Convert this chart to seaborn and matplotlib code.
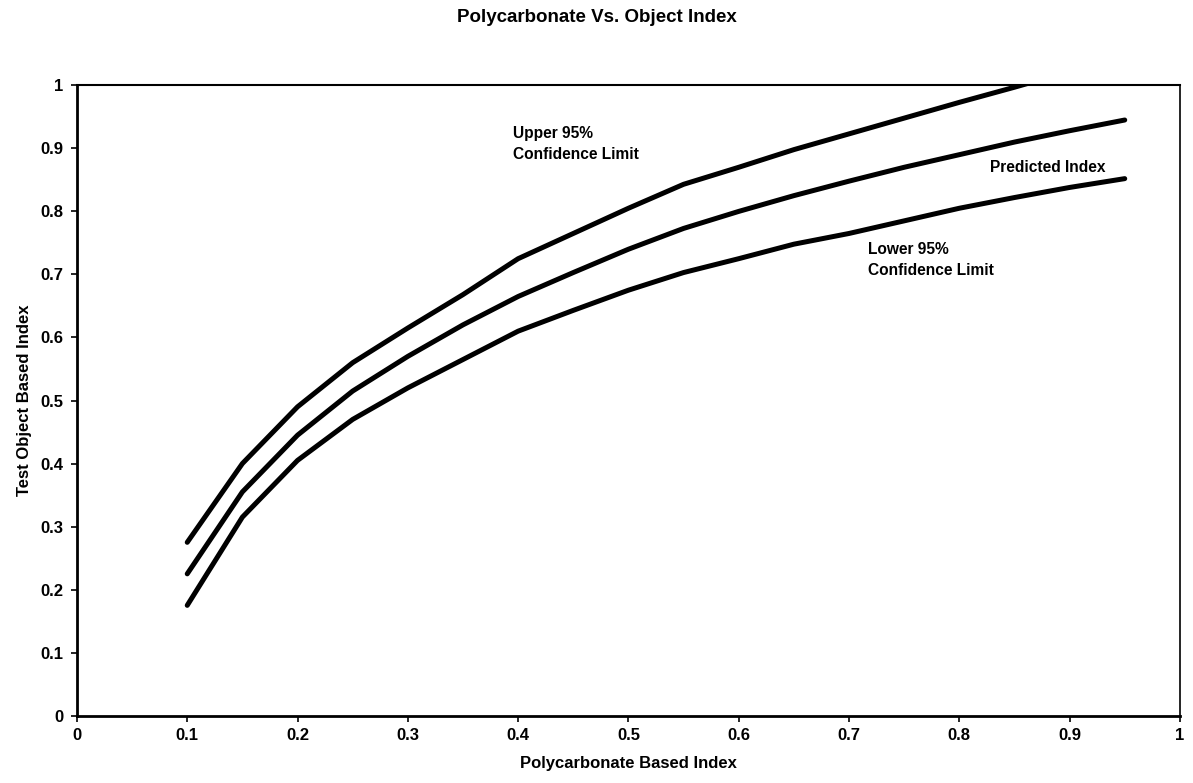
import matplotlib
matplotlib.use("Agg")
import matplotlib.pyplot as plt
import seaborn as sns
import pandas as pd

# values
x_index = [0.10, 0.15, 0.20, 0.25, 0.30, 0.35, 0.40, 0.45, 0.50,
           0.55, 0.60, 0.65, 0.70, 0.75, 0.80, 0.85, 0.90, 0.95]
upper_limit = [0.275, 0.400, 0.490, 0.560, 0.615, 0.668, 0.725, 0.765, 0.805,
               0.843, 0.870, 0.898, 0.923, 0.948, 0.973, 0.997, 1.022, 1.046]
predicted = [0.225, 0.355, 0.445, 0.515, 0.570, 0.620, 0.665, 0.703, 0.740,
             0.773, 0.800, 0.825, 0.848, 0.870, 0.890, 0.910, 0.928, 0.945]
lower_limit = [0.175, 0.315, 0.405, 0.470, 0.520, 0.565, 0.610, 0.643, 0.675,
               0.703, 0.725, 0.748, 0.765, 0.785, 0.805, 0.822, 0.838, 0.852]

series_names = ["Upper 95% Confidence Limit", "Predicted Index", "Lower 95% Confidence Limit"]
ticks = [0, 0.1, 0.2, 0.3, 0.4, 0.5, 0.6, 0.7, 0.8, 0.9, 1]
tick_labels = ["0", "0.1", "0.2", "0.3", "0.4", "0.5", "0.6", "0.7", "0.8", "0.9", "1"]

df = pd.concat([
    pd.DataFrame({"x": x_index, "y": vals, "series": name})
    for name, vals in zip(series_names, [upper_limit, predicted, lower_limit])
])

sns.set_style("white")
plt.rcParams["font.family"] = ["Liberation Sans", "DejaVu Sans"]
plt.rcParams.update({"text.color": "black", "axes.labelcolor": "black",
                     "xtick.color": "black", "ytick.color": "black"})

fig = plt.figure(figsize=(11.93, 7.83), dpi=100)
ax = fig.add_axes([0.0645, 0.086, 0.9245, 0.805])

sns.lineplot(data=df, x="x", y="y", hue="series", palette=["black"] * 3,
             linewidth=3.6, legend=False, ax=ax, sort=False)
for line in ax.lines:
    line.set_solid_capstyle("round")
    line.set_solid_joinstyle("round")

ax.set_xlim(0, 1)
ax.set_ylim(0, 1)
ax.set_xticks(ticks)
ax.set_xticklabels(tick_labels, fontsize=12, fontweight="bold")
ax.set_yticks(ticks)
ax.set_yticklabels(tick_labels, fontsize=12, fontweight="bold")
ax.tick_params(axis="x", direction="out", length=4, width=1.2, bottom=True, pad=5)
ax.tick_params(axis="y", direction="out", length=4, width=1.2, left=True, pad=6)

for side in ["left", "bottom", "top", "right"]:
    ax.spines[side].set_color("black")
ax.spines["left"].set_linewidth(2.0)
ax.spines["bottom"].set_linewidth(2.0)
ax.spines["top"].set_linewidth(1.5)
ax.spines["right"].set_linewidth(1.2)

ax.set_xlabel("Polycarbonate Based Index", fontsize=12, fontweight="bold", labelpad=9)
ax.set_ylabel("Test Object Based Index", fontsize=12, fontweight="bold", labelpad=6)
fig.suptitle("Polycarbonate Vs. Object Index", fontsize=13.5, fontweight="bold", y=0.988)

ax.text(0.395, 0.935, "Upper 95%\nConfidence Limit", fontsize=11.2, fontweight="bold",
        va="top", ha="left", linespacing=1.5)
ax.text(0.828, 0.87, "Predicted Index", fontsize=11.2, fontweight="bold",
        va="center", ha="left")
ax.text(0.717, 0.752, "Lower 95%\nConfidence Limit", fontsize=11.2, fontweight="bold",
        va="top", ha="left", linespacing=1.5)

fig.savefig("out.png", dpi=100, facecolor="white")
